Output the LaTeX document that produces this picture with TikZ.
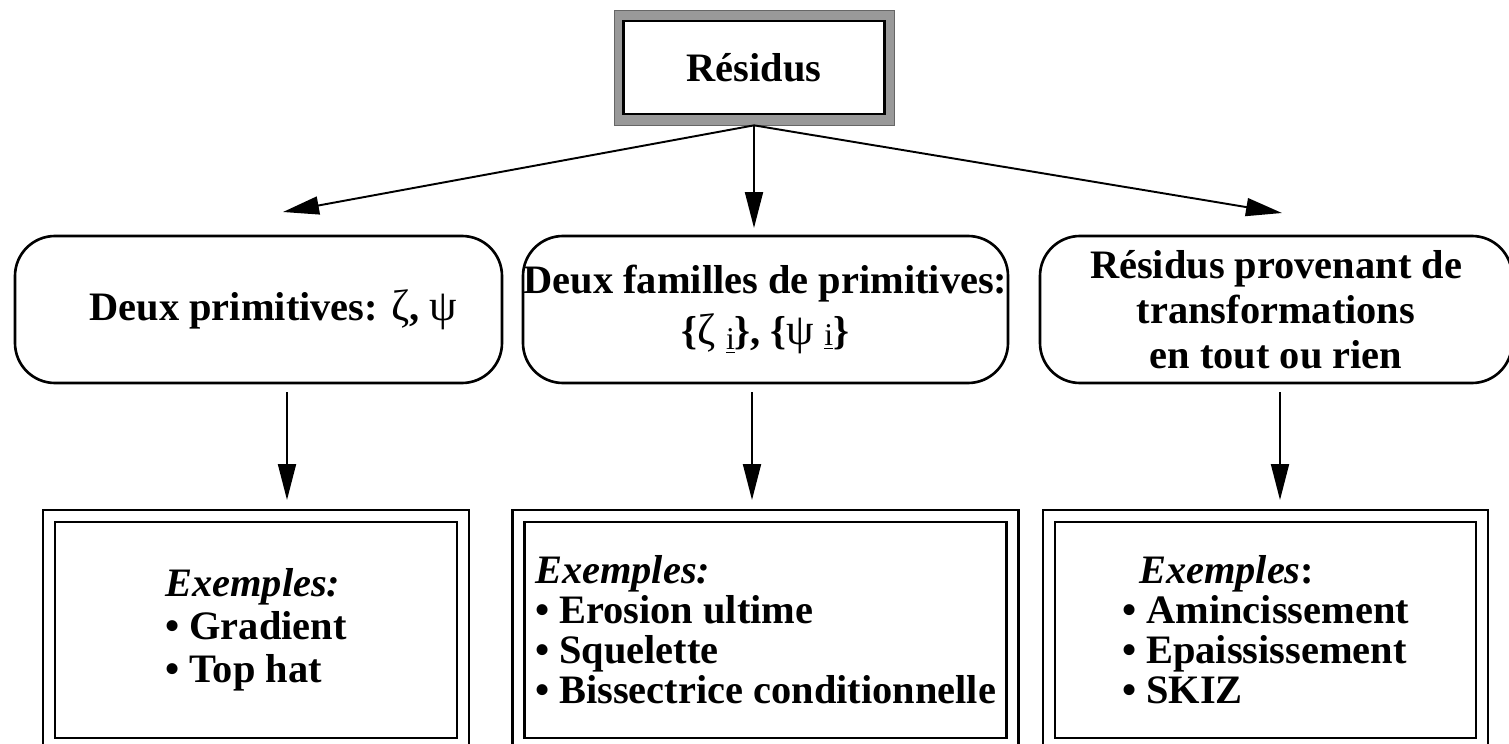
\documentclass[tikz,border=0pt]{standalone}
\usepackage{fontspec}
\setmainfont{Liberation Serif}
\usetikzlibrary{arrows.meta}
\newdimen\px
\px=0.02cm
\newcommand\grec[1]{{\fontsize{25}{27}\selectfont\mdseries #1}}
\begin{document}
\begin{tikzpicture}[x=0.02cm,y=-0.02cm,
    every node/.style={font=\fontsize{23}{27.6}\selectfont\bfseries,inner sep=0pt},
    fleche/.style={-{Triangle[length=0.72cm,width=0.36cm]},line width=1.1pt},
    bulle/.style={draw,line width=1.5pt,rounded corners=0.8cm,minimum height=147\px,align=center},
    cadre/.style={draw,line width=1.3pt,double=white,double distance=9.7\px,minimum height=228\px,align=left}]
  \useasboundingbox (0,0) rectangle (1509,744);
  \node (cadreres) [fill=black!40,draw=black!60,minimum width=280\px,minimum height=115\px] at (754,67.5) {};
  \node (res) [draw,line width=1.6pt,fill=white,minimum width=261\px,minimum height=93\px] at (cadreres) {Résidus};
  \node (deux) [bulle,minimum width=487\px] at (258.5,309.5) {\hspace*{30\px}Deux primitives: \grec{ζ}, \grec{ψ}};
  \node (fam) [bulle,minimum width=485\px] at (765.5,309.5)
    {Deux familles de primitives:\\[1pt]
     \{\grec{ζ} {\fontsize{18}{18}\selectfont\mdseries\raisebox{-3pt}{\underline{i}}}\},
     \{\grec{ψ} {\fontsize{18}{18}\selectfont\mdseries\raisebox{-1pt}{\underline{i}}}\}};
  \node (tor) [bulle,minimum width=472\px] at (1276,309.5)
    {Résidus provenant de\\[-2pt]transformations\\[-2pt]en tout ou rien};
  \node (ex1) [cadre,minimum width=414\px] at (256,630) {\textit{Exemples:}\\[-3pt]• Gradient\\[-3pt]• Top hat};
  \node (ex2) [cadre,minimum width=494\px] at (765.5,630)
    {\textit{Exemples:}\\[-4.8pt]• Erosion ultime\\[-4.8pt]• Squelette\\[-4.8pt]• Bissectrice conditionnelle};
  \node (ex3) [cadre,minimum width=433\px] at (1265.5,630)
    {\hspace*{17\px}\textit{Exemples}:\\[-4.8pt]• Amincissement\\[-4.8pt]• Epaississement\\[-4.8pt]• SKIZ};
  \coordinate (g) at (283,212);
  \coordinate (m) at (754,228);
  \coordinate (d) at (1282,213);
  \draw[fleche] (cadreres.south) -- (g);
  \draw[fleche] (cadreres.south) -- (m);
  \draw[fleche] (cadreres.south) -- (d);
  \foreach \x [count=\k] in {287,752,1280} {
    \coordinate (s\k) at (\x,392);
    \coordinate (e\k) at (\x,500);
    \draw[fleche] (s\k) -- (e\k);
  }
\end{tikzpicture}
\end{document}
